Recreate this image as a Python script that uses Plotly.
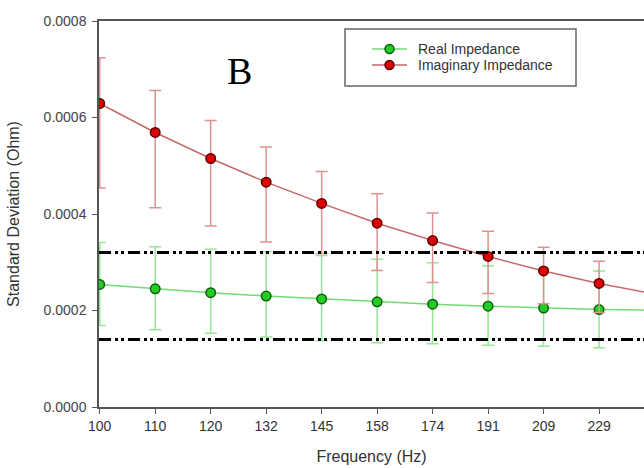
import plotly.graph_objects as go

# ---- data ----
freq_labels = ["100", "110", "120", "132", "145", "158", "174", "191", "209", "229"]
# the lines run on past the cropped right edge toward one more frequency
freqs = [100, 110, 120, 132, 145, 158, 174, 191, 209, 229, 251]

real_sd = [2.54e-4, 2.45e-4, 2.37e-4, 2.30e-4, 2.24e-4, 2.18e-4, 2.13e-4, 2.09e-4, 2.05e-4, 2.02e-4, 2.01e-4]
real_err_up = [0.87e-4, 0.87e-4, 0.90e-4, 0.92e-4, 0.90e-4, 0.88e-4, 0.86e-4, 0.84e-4, 0.82e-4, 0.80e-4, 0.80e-4]
real_err_dn = [0.85e-4, 0.85e-4, 0.84e-4, 0.85e-4, 0.86e-4, 0.85e-4, 0.82e-4, 0.81e-4, 0.79e-4, 0.79e-4, 0.79e-4]

imag_sd = [6.29e-4, 5.69e-4, 5.15e-4, 4.66e-4, 4.22e-4, 3.81e-4, 3.45e-4, 3.12e-4, 2.82e-4, 2.56e-4, 2.34e-4]
imag_err_up = [0.95e-4, 0.87e-4, 0.79e-4, 0.73e-4, 0.66e-4, 0.61e-4, 0.57e-4, 0.52e-4, 0.49e-4, 0.46e-4, 0.43e-4]
imag_err_dn = [1.75e-4, 1.56e-4, 1.40e-4, 1.24e-4, 1.04e-4, 0.98e-4, 0.87e-4, 0.77e-4, 0.68e-4, 0.60e-4, 0.55e-4]

limit_upper = 3.2e-4
limit_lower = 1.4e-4

y_ticks = [0, 2e-4, 4e-4, 6e-4, 8e-4]

series_names = ["Real Impedance", "Imaginary Impedance"]

# ---- styling ----
GREEN_LINE, GREEN_FILL, GREEN_EDGE, GREEN_ERR = "#74d874", "#22cc22", "#0b5e0b", "#98e498"
RED_LINE, RED_FILL, RED_EDGE, RED_ERR = "#c46a6a", "#dd0000", "#5a0000", "#e09090"

W, H = 644, 468
ML, MR, MT, MB = 99, 0, 21, 61
PW, PH = W - ML - MR, H - MT - MB


def px(x):
    return (x - ML) / PW


def py(y):
    return (H - MB - y) / PH


idx = list(range(len(freqs)))

fig = go.Figure()

fig.add_trace(go.Scatter(
    x=idx, y=real_sd, mode="lines+markers", name=series_names[0], showlegend=False,
    line=dict(color=GREEN_LINE, width=1.5),
    marker=dict(size=9.5, color=GREEN_FILL, line=dict(color=GREEN_EDGE, width=1.5)),
    error_y=dict(type="data", symmetric=False, array=real_err_up, arrayminus=real_err_dn,
                 color=GREEN_ERR, thickness=1.5, width=6),
))
fig.add_trace(go.Scatter(
    x=idx, y=imag_sd, mode="lines+markers", name=series_names[1], showlegend=False,
    line=dict(color=RED_LINE, width=1.5),
    marker=dict(size=9.5, color=RED_FILL, line=dict(color=RED_EDGE, width=1.5)),
    error_y=dict(type="data", symmetric=False, array=imag_err_up, arrayminus=imag_err_dn,
                 color=RED_ERR, thickness=1.5, width=6),
))

dash = "12px,4px,3px,3px,3px,4px"
for yv in (limit_upper, limit_lower):
    fig.add_shape(type="line", xref="paper", yref="y", x0=0, x1=1, y0=yv, y1=yv,
                  line=dict(color="black", width=3, dash=dash), layer="above")

# ---- legend box (drawn manually to match the compact original) ----
fig.add_shape(type="rect", xref="paper", yref="paper",
              x0=px(345), x1=px(576), y0=py(86), y1=py(29),
              line=dict(color="#666", width=1.5), fillcolor="white", layer="above")
rows = [(49, GREEN_LINE, GREEN_FILL, GREEN_EDGE), (65, RED_LINE, RED_FILL, RED_EDGE)]
r = 4.5
for (ry, lc, fc, ec), name in zip(rows, series_names):
    fig.add_shape(type="line", xref="paper", yref="paper",
                  x0=px(372), x1=px(407), y0=py(ry), y1=py(ry),
                  line=dict(color=lc, width=1.5), layer="above")
    fig.add_shape(type="circle", xref="paper", yref="paper",
                  x0=px(389.5 - r), x1=px(389.5 + r), y0=py(ry + r), y1=py(ry - r),
                  line=dict(color=ec, width=1.5), fillcolor=fc, layer="above")
    fig.add_annotation(text=name, xref="paper", yref="paper", x=px(416), y=py(ry),
                       xanchor="left", yanchor="middle", showarrow=False,
                       font=dict(size=14, color="#333"))

fig.add_annotation(text="B", xref="paper", yref="paper",
                   x=px(239), y=py(71), xanchor="center", yanchor="middle", showarrow=False,
                   font=dict(family="Liberation Serif, Times New Roman, serif", size=38, color="black"))

fig.update_layout(
    width=W, height=H,
    margin=dict(l=ML, r=MR, t=MT, b=MB),
    paper_bgcolor="white", plot_bgcolor="white",
    font=dict(family="Liberation Sans, Arial, sans-serif", color="#333"),
    showlegend=False,
    xaxis=dict(
        range=[-0.013, 9.81], tickmode="array", tickvals=idx[:len(freq_labels)], ticktext=freq_labels,
        showline=True, linecolor="#555", linewidth=1.5, mirror=True,
        ticks="outside", ticklen=5, tickcolor="#555", showgrid=False, zeroline=False,
        tickfont=dict(size=14, color="#333"),
        title=dict(text="Frequency (Hz)", font=dict(size=16, color="#333"), standoff=18),
    ),
    yaxis=dict(
        range=[0, 8e-4], tickmode="array", tickvals=y_ticks, tickformat=".4f",
        showline=True, linecolor="#555", linewidth=1.5,
        ticks="outside", ticklen=5, tickcolor="#555", showgrid=False, zeroline=False,
        ticklabelstandoff=3,
        tickfont=dict(size=14, color="#444"),
        title=dict(text="Standard Deviation (Ohm)", font=dict(size=16, color="#333"), standoff=20),
    ),
)

fig.write_html("out.html")
